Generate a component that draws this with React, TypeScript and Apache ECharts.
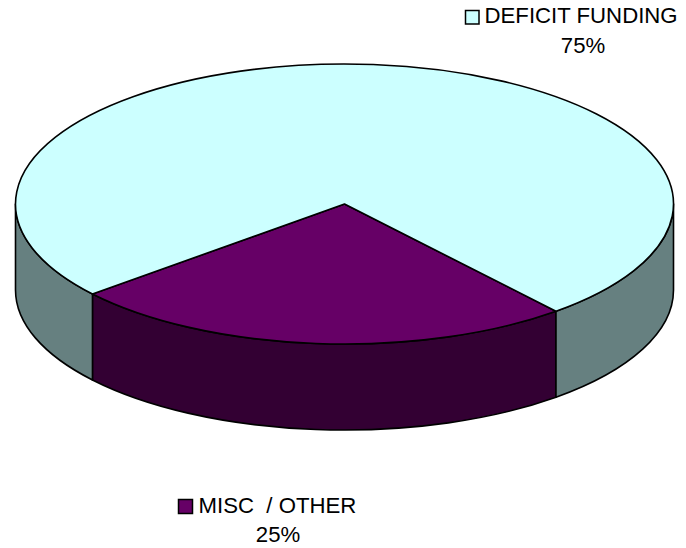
import React, { useEffect, useRef } from "react";
import * as echarts from "echarts";

const categories = ["MISC  / OTHER", "DEFICIT FUNDING"];
const values = [25, 75];
const topColors = ["#660066", "#CCFFFF"];
const sideColors = ["#330033", "#668080"];

const CX = 344.5;
const CY = 204;
const RX = 329;
const RY = 140;
const DEPTH = 86;
const START_DEG = 50;

const total = values.reduce((a, b) => a + b, 0);
const pt = (deg: number, dy = 0) => {
  const r = (deg * Math.PI) / 180;
  return [CX + RX * Math.cos(r), CY + dy + RY * Math.sin(r)];
};
const sliceRange = (i: number) => {
  let a = START_DEG;
  for (let k = 0; k < i; k++) a += (values[k] / total) * 360;
  return [a, a + (values[i] / total) * 360];
};
const arcTo = (deg: number, dy: number, large: number, sweep: number) => {
  const [x, y] = pt(deg, dy);
  return `A ${RX} ${RY} 0 ${large} ${sweep} ${x} ${y}`;
};
const topPath = (i: number) => {
  const [a, b] = sliceRange(i);
  const [sx, sy] = pt(a);
  return `M ${CX} ${CY} L ${sx} ${sy} ${arcTo(b, 0, b - a > 180 ? 1 : 0, 1)} Z`;
};
const sidePath = (a: number, b: number) => {
  const [sx, sy] = pt(a);
  const [ex, ey] = pt(b, DEPTH);
  return `M ${sx} ${sy} ${arcTo(b, 0, 0, 1)} L ${ex} ${ey} ${arcTo(a, DEPTH, 0, 0)} Z`;
};
// Visible parts of the rim: only the front half of the ellipse (0..180 deg, modulo 360)
const sideSegments = (i: number) => {
  const [a, b] = sliceRange(i);
  const out: number[][] = [];
  for (const off of [0, 360]) {
    const s = Math.max(a, off);
    const e = Math.min(b, off + 180);
    if (e > s) out.push([s, e]);
  }
  return out;
};

const absPath = (d: string, fill: string) => ({
  type: "path",
  shape: { pathData: d },
  style: { fill, stroke: "#000", lineWidth: 1.6, lineJoin: "round" },
});

const labelFont = { fontFamily: "'Liberation Sans', Arial, sans-serif", fontSize: 22.2, fill: "#000" };

export default function App() {
  const ref = useRef<HTMLDivElement>(null);
  useEffect(() => {
    document.body.style.margin = "0";
    const chart = echarts.init(ref.current!, null, { renderer: "svg" });
    const seriesData = categories.map((name, i) => ({ name, value: values[i] }));
    chart.setOption({
      animation: false,
      series: [
        {
          type: "custom",
          coordinateSystem: "none",
          silent: true,
          data: seriesData,
          renderItem: (params: any) => ({
            type: "group",
            children: sideSegments(params.dataIndex).map(([s, e]) =>
              absPath(sidePath(s, e), sideColors[params.dataIndex])
            ),
          }),
        },
        {
          type: "custom",
          coordinateSystem: "none",
          silent: true,
          data: seriesData,
          renderItem: (params: any) => absPath(topPath(params.dataIndex), topColors[params.dataIndex]),
        },
      ],
      graphic: [
        { type: "rect", shape: { x: 465.5, y: 10.5, width: 13.5, height: 13.5 }, style: { fill: topColors[1], stroke: "#000", lineWidth: 1.5 } },
        { type: "text", x: 484.5, y: 15.5, style: { ...labelFont, text: categories[1], verticalAlign: "middle", align: "left" } },
        { type: "text", x: 583, y: 45, style: { ...labelFont, text: `${values[1]}%`, verticalAlign: "middle", align: "center" } },
        { type: "rect", shape: { x: 178.5, y: 499.5, width: 14, height: 14 }, style: { fill: topColors[0], stroke: "#000", lineWidth: 1.5 } },
        { type: "text", x: 198.5, y: 505.5, style: { ...labelFont, text: categories[0], verticalAlign: "middle", align: "left" } },
        { type: "text", x: 278, y: 534.5, style: { ...labelFont, text: `${values[0]}%`, verticalAlign: "middle", align: "center" } },
      ],
    });
    return () => chart.dispose();
  }, []);
  return <div ref={ref} style={{ width: 686, height: 548 }} />;
}
